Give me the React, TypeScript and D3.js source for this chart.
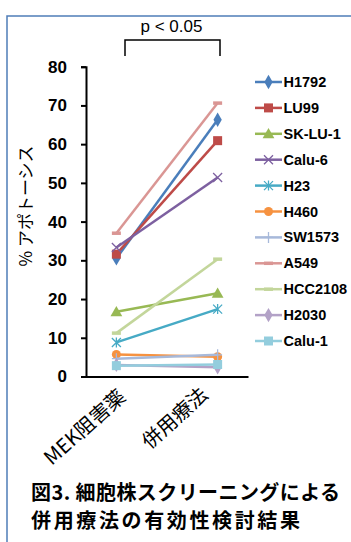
import React, { useEffect, useRef } from 'react';
import * as d3 from 'd3';

// Cell line data: % apoptosis with MEK inhibitor alone vs. combination
const CATEGORIES = ['MEK阻害薬', '併用療法'];
const CELL_LINES = ['H1792', 'LU99', 'SK-LU-1', 'Calu-6', 'H23', 'H460', 'SW1573', 'A549', 'HCC2108', 'H2030', 'Calu-1'];
const MEK_VALUES = [30.5, 31.6, 16.7, 33.3, 8.8, 5.7, 4.6, 37.0, 11.2, 3.0, 2.8];
const COMBO_VALUES = [66.3, 60.9, 21.5, 51.4, 17.4, 5.1, 5.6, 70.6, 30.3, 2.4, 3.1];
const Y_TICKS = [0, 10, 20, 30, 40, 50, 60, 70, 80];

const COLORS = ['#4A7EBB', '#BE4B48', '#98B954', '#7D60A0', '#46AAC5', '#F69240', '#A7B9DA', '#DA9694', '#C3D69B', '#B3A2C7', '#93CDDD'];
const MARKERS = ['diamond', 'square', 'triangle', 'x', 'asterisk', 'circle', 'plus', 'dash', 'dash', 'diamond', 'square'];

const FONT = '"Liberation Sans", Arial, "Noto Sans CJK JP", sans-serif';
const CJK = '"Noto Sans CJK JP", "Liberation Sans", sans-serif';

function drawMarker(g: any, type: string, x: number, y: number, color: string) {
  const s = 4.5;
  if (type === 'diamond') {
    g.append('path').attr('d', d3.symbol(d3.symbolDiamond, 60)()).attr('transform', `translate(${x},${y})`).attr('fill', color);
  } else if (type === 'square') {
    g.append('rect').attr('x', x - s).attr('y', y - s).attr('width', 2 * s).attr('height', 2 * s).attr('fill', color);
  } else if (type === 'triangle') {
    g.append('path').attr('d', d3.symbol(d3.symbolTriangle, 60)()).attr('transform', `translate(${x},${y + 1})`).attr('fill', color);
  } else if (type === 'circle') {
    g.append('circle').attr('cx', x).attr('cy', y).attr('r', 4.5).attr('fill', color);
  } else if (type === 'x' || type === 'asterisk') {
    const p = d3.path();
    p.moveTo(x - s, y - s); p.lineTo(x + s, y + s);
    p.moveTo(x - s, y + s); p.lineTo(x + s, y - s);
    if (type === 'asterisk') { p.moveTo(x, y - s - 0.5); p.lineTo(x, y + s + 0.5); }
    g.append('path').attr('d', p.toString()).attr('stroke', color).attr('stroke-width', 1.3).attr('fill', 'none');
  } else if (type === 'plus') {
    const p = d3.path();
    p.moveTo(x, y - s - 1); p.lineTo(x, y + s + 1);
    p.moveTo(x - s, y); p.lineTo(x + s, y);
    g.append('path').attr('d', p.toString()).attr('stroke', color).attr('stroke-width', 1.3).attr('fill', 'none');
  } else if (type === 'dash') {
    g.append('line').attr('x1', x - s).attr('x2', x + s).attr('y1', y).attr('y2', y).attr('stroke', color).attr('stroke-width', 3.5);
  }
}

export default function App() {
  const svgRef = useRef<SVGSVGElement>(null);

  useEffect(() => {
    const svg = d3.select(svgRef.current);
    svg.selectAll('*').remove();

    const W = 351, H = 542;
    svg.append('rect').attr('width', W).attr('height', H).attr('fill', '#fff');

    // frame
    svg.append('path').attr('d', `M7,${H}V16H${W}`).attr('fill', 'none').attr('stroke', '#4F7DB8').attr('stroke-width', 1.5);

    const x = d3.scalePoint<string>().domain(CATEGORIES).range([86, 248]).padding(0.3);
    const y = d3.scaleLinear().domain([0, 80]).range([376.5, 66.7]);

    // y axis
    const yAxis = svg.append('g').attr('transform', 'translate(86,0)')
      .call(d3.axisLeft(y).tickValues(Y_TICKS).tickSize(5).tickPadding(14) as any);
    yAxis.select('.domain').attr('stroke', '#000').attr('stroke-width', 2);
    yAxis.selectAll('.tick line').attr('stroke', '#000').attr('stroke-width', 2);
    yAxis.selectAll('.tick text').attr('font-family', FONT).attr('font-size', 17).attr('font-weight', 'bold').attr('fill', '#000');

    // x axis (labels slanted, nudged like the original)
    const xAxis = svg.append('g').attr('transform', `translate(0,${y(0)})`)
      .call(d3.axisBottom(x).tickSize(0).tickSizeOuter(0).tickPadding(0) as any);
    xAxis.select('.domain').attr('stroke', '#000').attr('stroke-width', 2);
    xAxis.selectAll('.tick text')
      .attr('font-family', CJK).attr('font-size', 20).attr('fill', '#000')
      .attr('text-anchor', 'end').attr('dy', null).attr('y', 0)
      .attr('transform', (_: any, i: number) => (i === 0 ? 'translate(10,22) rotate(-42)' : 'translate(-9,20) rotate(-42)'));

    // y label
    svg.append('text').attr('transform', 'translate(32,206) rotate(-90)')
      .attr('text-anchor', 'middle').attr('font-family', CJK).attr('font-size', 17).attr('fill', '#000')
      .text('% アポトーシス');

    // significance bracket
    const x0 = 125, x1 = 220;
    svg.append('path').attr('d', `M${x0},56V40H${x1}V56`).attr('fill', 'none').attr('stroke', '#000').attr('stroke-width', 1.5);
    svg.append('text').attr('x', (x0 + x1) / 2 - 1).attr('y', 32).attr('text-anchor', 'middle')
      .attr('font-family', FONT).attr('font-size', 17).attr('fill', '#000').text('p < 0.05');

    // series
    const gS = svg.append('g');
    CELL_LINES.forEach((name, i) => {
      const vals = [MEK_VALUES[i], COMBO_VALUES[i]];
      const line = d3.line<number>().x((_, j) => x(CATEGORIES[j])!).y(v => y(v));
      gS.append('path').attr('d', line(vals)!).attr('fill', 'none').attr('stroke', COLORS[i]).attr('stroke-width', 2.5);
      vals.forEach((v, j) => drawMarker(gS, MARKERS[i], x(CATEGORIES[j])!, y(v), COLORS[i]));
    });

    // legend
    const lg = svg.append('g');
    CELL_LINES.forEach((name, i) => {
      const ly = 82 + i * 25.9;
      lg.append('line').attr('x1', 255).attr('x2', 282).attr('y1', ly).attr('y2', ly).attr('stroke', COLORS[i]).attr('stroke-width', 2.5);
      drawMarker(lg, MARKERS[i], 268.5, ly, COLORS[i]);
      lg.append('text').attr('x', 283.5).attr('y', ly + 5).attr('font-family', FONT).attr('font-size', 14.5)
        .attr('font-weight', 'bold').attr('fill', '#000').text(name);
    });

    // caption
    svg.append('text').attr('x', 31).attr('y', 500).attr('font-family', CJK).attr('font-size', 20)
      .attr('font-weight', 'bold').attr('fill', '#000').attr('textLength', 309).attr('lengthAdjust', 'spacing')
      .text('図3. 細胞株スクリーニングによる');
    svg.append('text').attr('x', 31).attr('y', 528).attr('font-family', CJK).attr('font-size', 20)
      .attr('font-weight', 'bold').attr('fill', '#000').attr('textLength', 269).attr('lengthAdjust', 'spacing')
      .text('併用療法の有効性検討結果');
  }, []);

  return (
    <svg ref={svgRef} width={351} height={542}
      style={{ position: 'absolute', left: 0, top: 0, display: 'block' }} />
  );
}
